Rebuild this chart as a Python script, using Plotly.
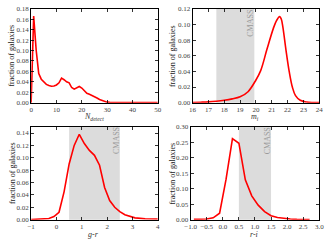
import plotly.graph_objects as go

# ---------------- data ----------------
ndet_x = list(range(0, 51))
ndet_y = [0.0, 0.166, 0.100, 0.056, 0.045, 0.039, 0.035, 0.033, 0.0315, 0.032, 0.034,
          0.038, 0.047, 0.044, 0.040, 0.038, 0.029, 0.026, 0.029, 0.031, 0.028,
          0.022, 0.018, 0.016, 0.014, 0.012, 0.009, 0.006, 0.004, 0.002, 0.001,
          0.0005, 0.0003, 0.0002, 0.0002, 0.0001, 0.0001, 0.0001, 0.0001, 0.0001, 0.0001,
          0.0001, 0.0001, 0.0001, 0.0001, 0.0001, 0.0001, 0.0001, 0.0001, 0.0001, 0.0001]

mi_x = [16.0, 16.5, 17.0, 17.5, 18.0, 18.5, 19.0, 19.5, 20.0, 20.3, 20.7, 21.1, 21.3,
        21.5, 21.6, 21.7, 21.9, 22.1, 22.3, 22.5, 22.8, 23.2, 23.6, 24.0]
mi_y = [0.0003, 0.0006, 0.001, 0.0018, 0.003, 0.0048, 0.0075, 0.014, 0.029, 0.041,
        0.0685, 0.095, 0.105, 0.110, 0.107, 0.097, 0.067, 0.040, 0.020, 0.009,
        0.003, 0.0008, 0.0002, 0.0001]

gr_x = [-1.0, -0.5, -0.3, -0.1, 0.1, 0.3, 0.5, 0.7, 0.9, 1.1, 1.3, 1.5, 1.7, 1.9,
        2.1, 2.3, 2.5, 2.7, 2.9, 3.1, 3.5, 4.0]
gr_y = [0.0003, 0.0008, 0.002, 0.005, 0.012, 0.045, 0.090, 0.120, 0.138, 0.123,
        0.112, 0.104, 0.088, 0.052, 0.031, 0.020, 0.013, 0.008, 0.005, 0.003,
        0.0015, 0.001]

ri_x = [-0.9, -0.7, -0.5, -0.3, -0.1, 0.1, 0.3, 0.5, 0.7, 0.9, 1.1, 1.3, 1.5, 1.7,
        1.9, 2.1, 2.3, 2.5, 2.7]
ri_y = [0.001, 0.001, 0.002, 0.006, 0.021, 0.130, 0.262, 0.247, 0.129, 0.077, 0.047,
        0.026, 0.013, 0.007, 0.004, 0.002, 0.001, 0.001, 0.0005]

cmass_mi = [17.5, 19.9]
cmass_gr = [0.5, 2.5]
cmass_ri = [0.5, 1.5]

ndet_xticks = [0, 10, 20, 30, 40, 50]
mi_xticks = [16, 17, 18, 19, 20, 21, 22, 23, 24]
gr_xticks = [-1, 0, 1, 2, 3, 4]
ri_xticks = [-1.0, -0.5, 0.0, 0.5, 1.0, 1.5, 2.0, 2.5, 3.0]
ndet_yticks = [0.00, 0.02, 0.04, 0.06, 0.08, 0.10, 0.12, 0.14, 0.16, 0.18]
mi_yticks = [0.00, 0.02, 0.04, 0.06, 0.08, 0.10, 0.12]
gr_yticks = [0.00, 0.02, 0.04, 0.06, 0.08, 0.10, 0.12, 0.14]
ri_yticks = [0.00, 0.05, 0.10, 0.15, 0.20, 0.25, 0.30]

x_titles = ["<i>N</i><sub><i>detect</i></sub>", "<i>m</i><sub><i>i</i></sub>",
            "<i>g-r</i>", "<i>r-i</i>"]
y_title = "fraction of galaxies"

# ---------------- figure ----------------
W, H = 332, 244
FONT = "Liberation Serif"
fig = go.Figure()


def fmt(v, f):
    s = format(v, f)
    return s.replace("-", "\u2212")


panels = [
    dict(x=ndet_x, y=ndet_y, xr=[0, 50], yr=[0, 0.18], xt=ndet_xticks, yt=ndet_yticks,
         xf="d", yf=".2f", dom_x=(26, 157), dom_y=(5, 102), shape="linear", band=None,
         tx=91, ty=117, yx=6),
    dict(x=mi_x, y=mi_y, xr=[16, 24], yr=[0, 0.12], xt=mi_xticks, yt=mi_yticks,
         xf="d", yf=".2f", dom_x=(193, 324), dom_y=(5, 102), shape="spline", band=cmass_mi,
         tx=258, ty=117, yx=172),
    dict(x=gr_x, y=gr_y, xr=[-1, 4], yr=[0, 0.15], xt=gr_xticks, yt=gr_yticks,
         xf="d", yf=".2f", dom_x=(26, 157), dom_y=(127, 223), shape="linear", band=cmass_gr,
         tx=91, ty=238, yx=6),
    dict(x=ri_x, y=ri_y, xr=[-1, 3], yr=[0, 0.30], xt=ri_xticks, yt=ri_yticks,
         xf=".1f", yf=".2f", dom_x=(191, 324), dom_y=(127, 223), shape="linear", band=cmass_ri,
         tx=257, ty=238, yx=172),
]

for i, p in enumerate(panels, start=1):
    sfx = "" if i == 1 else str(i)
    xa, ya = "x" + sfx, "y" + sfx
    fig.add_trace(go.Scatter(x=p["x"], y=p["y"], mode="lines",
                             line=dict(color="red", width=1.6, shape=p["shape"]),
                             xaxis=xa, yaxis=ya, showlegend=False, hoverinfo="skip"))
    axis_common = dict(showgrid=False, zeroline=False, showline=True, linecolor="black",
                       linewidth=1, mirror="allticks", ticks="inside", ticklen=3,
                       tickcolor="black", tickwidth=0.8, ticklabeloverflow="allow",
                       tickfont=dict(family=FONT, size=7, color="#444"))
    fig.layout["xaxis" + sfx] = dict(
        axis_common, range=p["xr"], tickmode="array", tickvals=p["xt"],
        ticktext=[fmt(v, p["xf"]) for v in p["xt"]],
        domain=[p["dom_x"][0] / W, p["dom_x"][1] / W], anchor=ya)
    fig.layout["yaxis" + sfx] = dict(
        axis_common, range=p["yr"], tickmode="array", tickvals=p["yt"],
        ticktext=[fmt(v, p["yf"]) for v in p["yt"]],
        domain=[1 - p["dom_y"][1] / H, 1 - p["dom_y"][0] / H], anchor=xa)
    # axis titles
    fig.add_annotation(xref="paper", yref="paper", x=p["tx"] / W, y=1 - p["ty"] / H,
                       xanchor="center", yanchor="middle", text=x_titles[i - 1],
                       showarrow=False, font=dict(family=FONT, size=8, color="#333"))
    fig.add_annotation(xref="paper", yref="paper", x=p["yx"] / W,
                       y=1 - (p["dom_y"][0] + p["dom_y"][1]) / 2 / H,
                       xanchor="center", yanchor="middle", text=y_title, textangle=-90,
                       showarrow=False, font=dict(family=FONT, size=8, color="#222"))
    if p["band"]:
        fig.add_shape(type="rect", xref=xa, yref=ya + " domain", x0=p["band"][0], x1=p["band"][1],
                      y0=0, y1=1, fillcolor="#dcdcdc", line_width=0, layer="below")
        fig.add_annotation(xref=xa, yref=ya + " domain", x=p["band"][1], y=0.85,
                           xanchor="center", yanchor="middle", text="CMASS", textangle=-90,
                           showarrow=False, xshift=-3.5,
                           font=dict(family=FONT, size=8, color="#999"))

fig.update_layout(width=W, height=H, autosize=False,
                  margin=dict(l=0, r=0, t=0, b=0),
                  paper_bgcolor="white", plot_bgcolor="white")

fig.write_html("out.html", config={"displayModeBar": False, "staticPlot": True},
               post_script="document.body.style.margin='0';document.body.style.padding='0';"
                           "document.documentElement.style.overflow='hidden';")
